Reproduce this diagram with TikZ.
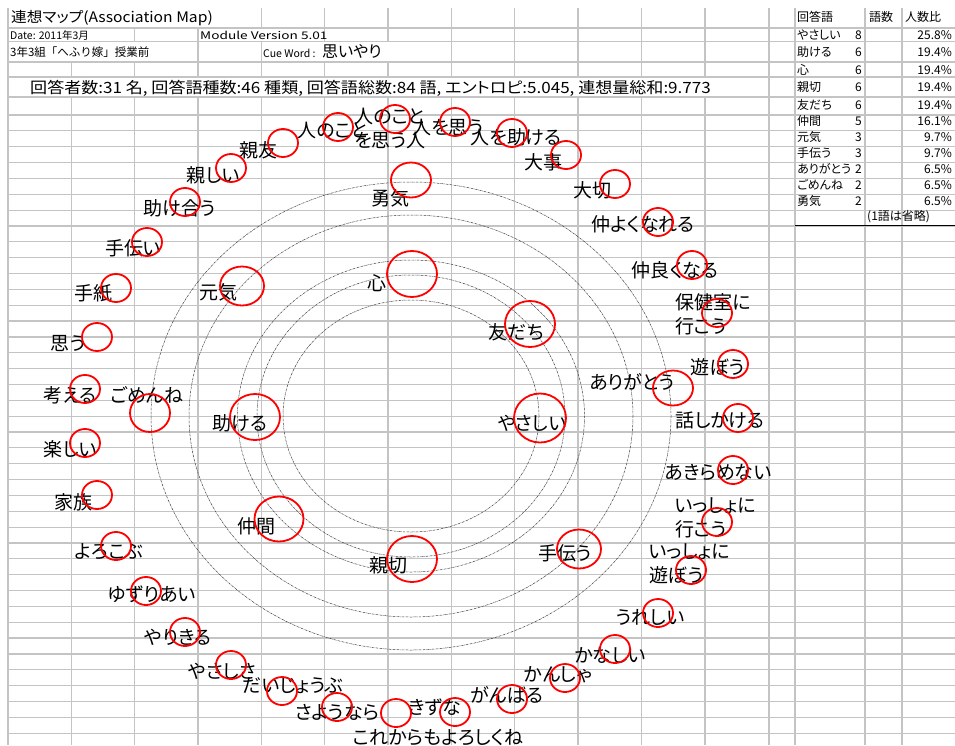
\documentclass[tikz,border=0pt]{standalone}
\usepackage{fontspec}
\newfontfamily\jp[RawFeature=+palt]{Noto Sans CJK JP}
\newfontfamily\jpf{Noto Sans CJK JP}
\usetikzlibrary{shapes.geometric}
\begin{document}
\begin{tikzpicture}[x=1pt,y=-1pt,
  gridline/.style={draw=black!23,line width=1.2pt},
  ring/.style={draw=black!75,line width=0.5pt,dash pattern=on 2.2pt off 0.8pt on 0.5pt off 0.8pt},
  rc/.style={draw=red,line width=1.8pt,ellipse,inner sep=0pt,minimum width=30pt,minimum height=28pt},
  rc2/.style={rc,minimum width=40pt,minimum height=35pt},
  rc3/.style={rc,minimum width=44pt,minimum height=39pt},
  rc5/.style={rc,minimum width=49pt,minimum height=45pt},
  rc6/.style={rc,minimum width=50pt,minimum height=46pt},
  rc8/.style={rc,minimum width=52pt,minimum height=49pt},
  lbl/.style={font=\jp\fontsize{19}{24}\selectfont,inner sep=0pt,align=center},
  lbll/.style={lbl,align=left,anchor=west},
  hd/.style={font=\jp\fontsize{10.5}{12}\selectfont,inner sep=0pt,anchor=west},
  tb/.style={font=\jp\fontsize{12}{12}\selectfont,inner sep=0pt},
]
\useasboundingbox (0,0) rectangle (955,745);
\fill[white] (0,0) rectangle (955,745);
% ---------- grid ----------
\foreach \yy in {28,41.5,62,77,97}
  \draw[gridline] (8,\yy) -- (955,\yy);
\foreach \k in {0,...,39}
  \draw[gridline] (8,{115+15.85*\k}) -- (955,{115+15.85*\k});
\foreach \xx in {8,261.5,324.5,388,451.5,514.5,578,641.5,705,769,795,865,902}
  \draw[gridline] (\xx,8) -- (\xx,28);
\foreach \xx in {8,134.5,198,324.5,388,451.5,514.5,578,641.5,705,769,795,865,902}
  \draw[gridline] (\xx,28) -- (\xx,41.5);
\foreach \xx in {8,198,261.5,451.5,514.5,578,641.5,705,769,795,865,902}
  \draw[gridline] (\xx,41.5) -- (\xx,62);
\foreach \xx in {8,71.5,134.5,198,261.5,324.5,388,451.5,514.5,578,641.5,705,769,795,865,902}
  \draw[gridline] (\xx,62) -- (\xx,77);
\foreach \xx in {8,769,795,865,902}
  \draw[gridline] (\xx,77) -- (\xx,97);
\foreach \xx in {8,71.5,134.5,198,261.5,324.5,388,451.5,514.5,578,641.5,705,769,795,865,902}
  \draw[gridline] (\xx,97) -- (\xx,745);
\draw[black,line width=1pt] (795,225.5) -- (955,225.5);
% ---------- header ----------
\node[anchor=west,inner sep=0pt,font=\jp\fontsize{14.5}{15}\selectfont] (title) at (11,18) {\scalebox{1.08}[1]{連想マップ(Association Map)}};
\node[hd] (date) at (10,35.5) {Date: 2011年3月};
\node[hd] (ver) at (200,35.5) {\scalebox{1.3}[1]{Module Version 5.01}};
\node[hd,font=\jpf\fontsize{11.5}{12}\selectfont] (cls) at (10,52.5) {3年3組「へふり嫁」授業前};
\node[hd] (cue) at (263,53) {Cue Word :};
\node[anchor=west,inner sep=0pt,font=\jp\fontsize{16}{16}\selectfont] (cuew) at (322,51.5) {思いやり};
\node[anchor=west,inner sep=0pt,font=\jp\fontsize{15.5}{16}\selectfont] (summary) at (30,88) {\scalebox{1.1}[1]{回答者数:31 名, 回答語種数:46 種類, 回答語総数:84 語, エントロピ:5.045, 連想量総和:9.773}};
% ---------- table ----------
\node[tb,anchor=west] (th1) at (797,17) {回答語};
\node[tb,anchor=west] (th2) at (869,17) {語数};
\node[tb,anchor=west] (th3) at (905,17) {人数比};
\foreach \w/\n/\p/\yy [count=\i] in {やさしい/8/25.8\%/35, 助ける/6/19.4\%/52, 心/6/19.4\%/70, 親切/6/19.4\%/87, 友だち/6/19.4\%/105, 仲間/5/16.1\%/121, 元気/3/9.7\%/137, 手伝う/3/9.7\%/153, ありがとう/2/6.5\%/169, ごめんね/2/6.5\%/185, 勇気/2/6.5\%/201}{
  \node[tb,anchor=west] (tw\i) at (797,\yy) {\w};
  \node[tb,anchor=east] (tn\i) at (862,\yy) {\n};
  \node[tb,anchor=east] (tp\i) at (952,\yy) {\p};
}
\node[tb,anchor=west] (tomit) at (867,217) {(1語は省略)};
% ---------- rings ----------
\draw[ring] (411,416) ellipse [x radius=260,y radius=234];
\draw[ring] (411,416) ellipse [x radius=222,y radius=201];
\draw[ring] (411,416) ellipse [x radius=173.5,y radius=156];
\draw[ring] (411,416) ellipse [x radius=154,y radius=141];
\draw[ring] (411,416) ellipse [x radius=128,y radius=116];
% ---------- frequent words ----------
\node[lbl] (t-kokoro) at (377,283) {心};
\node[lbl] (t-tomo) at (516,332) {友だち};
\node[lbl] (t-yasa) at (532,423) {やさしい};
\node[lbl] (t-shin) at (388,565) {親切};
\node[lbl] (t-tasu) at (240,423) {助ける};
\node[lbl] (t-naka) at (256,526) {仲間};
\node[lbl] (t-genki) at (218,292) {元気};
\node[lbl] (t-tetsu) at (565,553) {手伝う};
\node[lbl] (t-ari) at (632,382) {ありがとう};
\node[lbl] (t-gome) at (147,395) {ごめんね};
\node[lbl] (t-yuuki) at (390,198) {勇気};
\node[rc6] (c-kokoro) at (412,274) {};
\node[rc6] (c-tomo) at (530,324) {};
\node[rc8] (c-yasa) at (540,418) {};
\node[rc6] (c-shin) at (412,559) {};
\node[rc6] (c-tasu) at (255,417) {};
\node[rc5] (c-naka) at (279,519) {};
\node[rc3] (c-genki) at (242,286) {};
\node[rc3] (c-tetsu) at (579,549) {};
\node[rc2] (c-ari) at (673,388) {};
\node[rc2,minimum height=38pt] (c-gome) at (150,413) {};
\node[rc2] (c-yuuki) at (411,180) {};
% ---------- single words ----------
\node[lbl] (t01) at (333,130) {人のこと};
\node[lbl] (t02) at (390,128.5) {人のこと\\を思う人};
\node[lbl] (t03) at (448,127) {人を思う};
\node[lbl] (t04) at (516,137) {人を助ける};
\node[lbl] (t05) at (543,162) {大事};
\node[lbl] (t06) at (592,190) {大切};
\node[lbl] (t07) at (643,224) {仲よくなれる};
\node[lbl] (t08) at (675,270) {仲良くなる};
\node[lbll] (t09) at (675,314.5) {保健室に\\行こう};
\node[lbl] (t10) at (718,367) {遊ぼう};
\node[lbl] (t11) at (720,420) {話しかける};
\node[lbl] (t12) at (718,472) {あきらめない};
\node[lbll] (t13) at (675,517.5) {いっしょに\\行こう};
\node[lbll] (t14) at (649,563.5) {いっしょに\\遊ぼう};
\node[lbl] (t15) at (650,617) {うれしい};
\node[lbl] (t16) at (610,655) {かなしい};
\node[lbl] (t17) at (558,675) {かんしゃ};
\node[lbl] (t18) at (507,695) {がんばる};
\node[lbl] (t19) at (435,707) {きずな};
\node[lbl] (t20) at (438,737) {これからもよろしくね};
\node[lbl] (t21) at (337,712) {さようなら};
\node[lbl] (t22) at (293,686) {だいじょうぶ};
\node[lbl] (t23) at (222,671) {やさしさ};
\node[lbl] (t24) at (178,637) {やりきる};
\node[lbl] (t25) at (152,594) {ゆずりあい};
\node[lbl] (t26) at (109,552) {よろこぶ};
\node[lbl] (t27) at (73,502) {家族};
\node[lbl] (t28) at (70,449) {楽しい};
\node[lbl] (t29) at (70,395) {考える};
\node[lbl] (t30) at (68,343) {思う};
\node[lbl] (t31) at (93,293) {手紙};
\node[lbl] (t32) at (133,248) {手伝い};
\node[lbl] (t33) at (180,208) {助け合う};
\node[lbl] (t34) at (213,175) {親しい};
\node[lbl] (t35) at (258,150) {親友};
\foreach \cx/\cy [count=\i] in {338/127, 395/119, 455/122, 512/133, 566/155, 615/184, 658/222, 692/265, 717/313, 733/364, 738/418, 733/470, 717/522, 691/570, 658/613, 615/649, 565/678, 512/699, 455/712, 396/713, 337/707, 282/691, 231/665, 185/632, 146/591, 116/546, 97/495, 85/443, 85/389, 97/337, 116/288, 147/242, 185/202, 231/168, 283/143}
  \node[rc] (c\i) at (\cx,\cy) {};
\end{tikzpicture}
\end{document}
